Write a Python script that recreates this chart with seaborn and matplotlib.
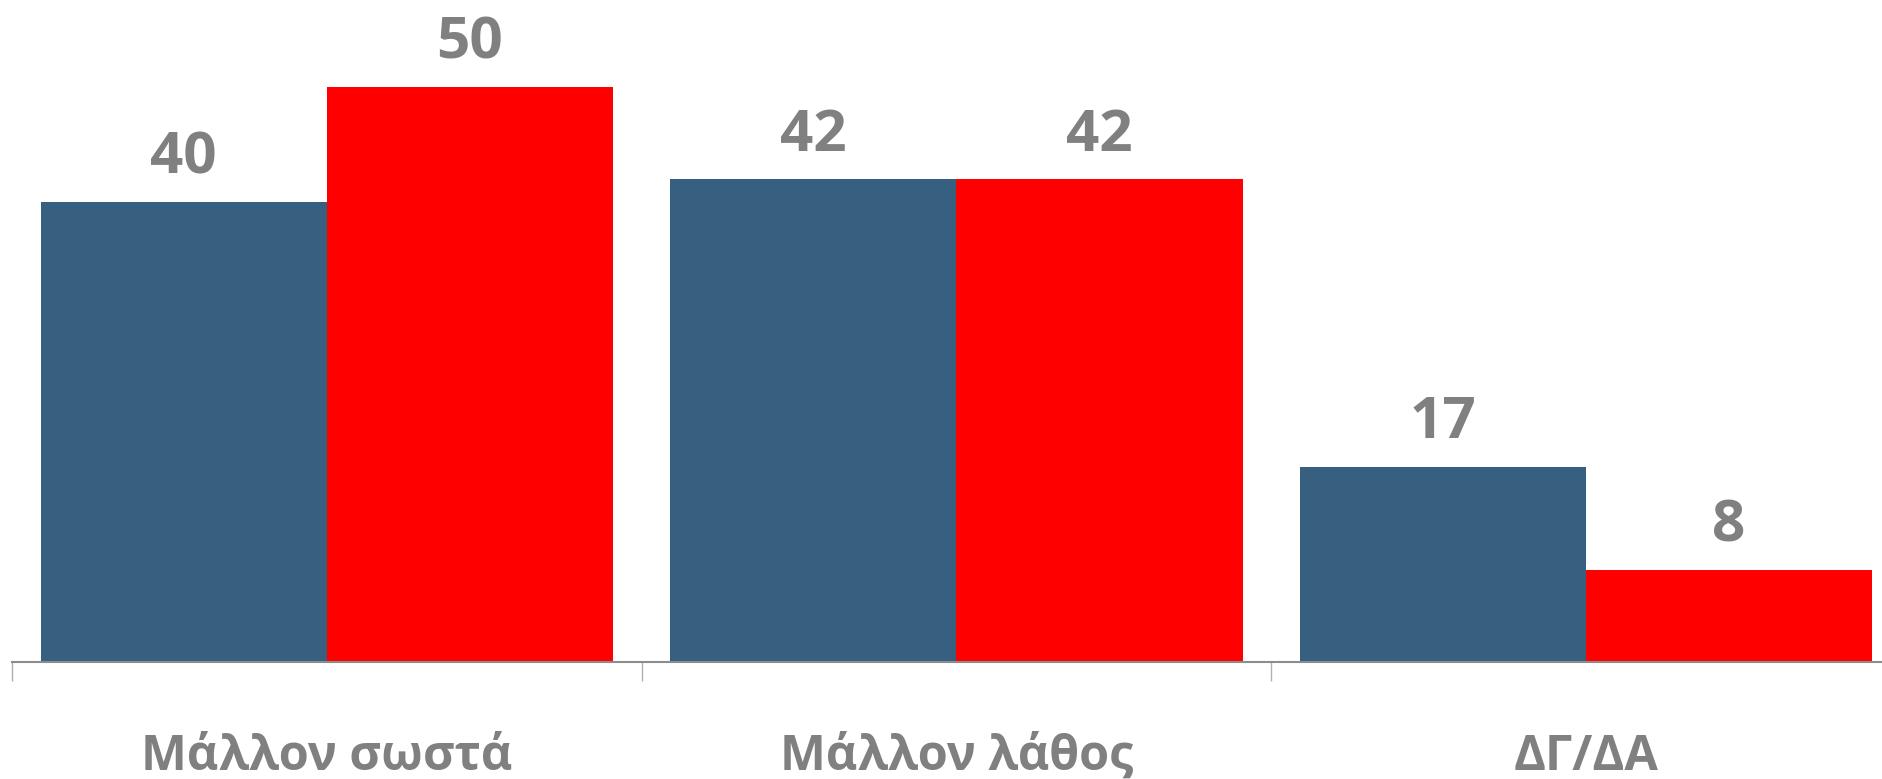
import matplotlib
matplotlib.use("Agg")
import matplotlib.pyplot as plt
import seaborn as sns
import pandas as pd

# ---- Data ----
categories = ["Μάλλον σωστά", "Μάλλον λάθος", "ΔΓ/ΔΑ"]
series_names = ["Σειρά 1", "Σειρά 2"]
series_1 = [40, 42, 17]
series_2 = [50, 42, 8]

colors = ["#365F80", "#FF0000"]
grey = "#808080"

df = pd.DataFrame({
    "Κατηγορία": categories * 2,
    "Σειρά": [series_names[0]] * 3 + [series_names[1]] * 3,
    "Τιμή": series_1 + series_2,
})

# ---- Plotting ----
sns.set_style("white")
plt.rcParams["font.family"] = ["Open Sans", "DejaVu Sans"]

fig = plt.figure(figsize=(18.83, 7.79), dpi=100)
ax = fig.add_axes([0.0064, 0.150, 1.003, 0.850])

sns.barplot(data=df, x="Κατηγορία", y="Τιμή", hue="Σειρά", palette=colors,
            width=0.909, saturation=1, ax=ax, legend=False, linewidth=0)

# value labels above bars
for cont in ax.containers:
    for bar in cont:
        h = bar.get_height()
        ax.annotate(f"{h:.0f}", (bar.get_x() + bar.get_width() / 2, h),
                    textcoords="offset points", xytext=(0, 20.5), ha="center", va="baseline",
                    fontsize=42, fontweight="bold", color=grey)

ax.set_xlim(-0.5, 2.5)
ax.set_ylim(0, 57.6)
ax.set_xlabel("")
ax.set_ylabel("")
ax.set_yticks([])
for side in ["top", "right", "left"]:
    ax.spines[side].set_visible(False)
ax.spines["bottom"].set_color("#8c8c8c")
ax.spines["bottom"].set_linewidth(1.5)

# separators between categories
ax.set_xticks([-0.5, 0.5, 1.5, 2.5], minor=True)
ax.tick_params(axis="x", which="minor", bottom=True, length=14, width=1,
               color="#b0b0b0", direction="out")
ax.tick_params(axis="x", which="major", bottom=True, length=0, pad=51)
for lbl in ax.get_xticklabels():
    lbl.set_fontsize(35)
    lbl.set_fontweight("bold")
    lbl.set_color(grey)

fig.savefig("out.png", dpi=100)
plt.close(fig)
